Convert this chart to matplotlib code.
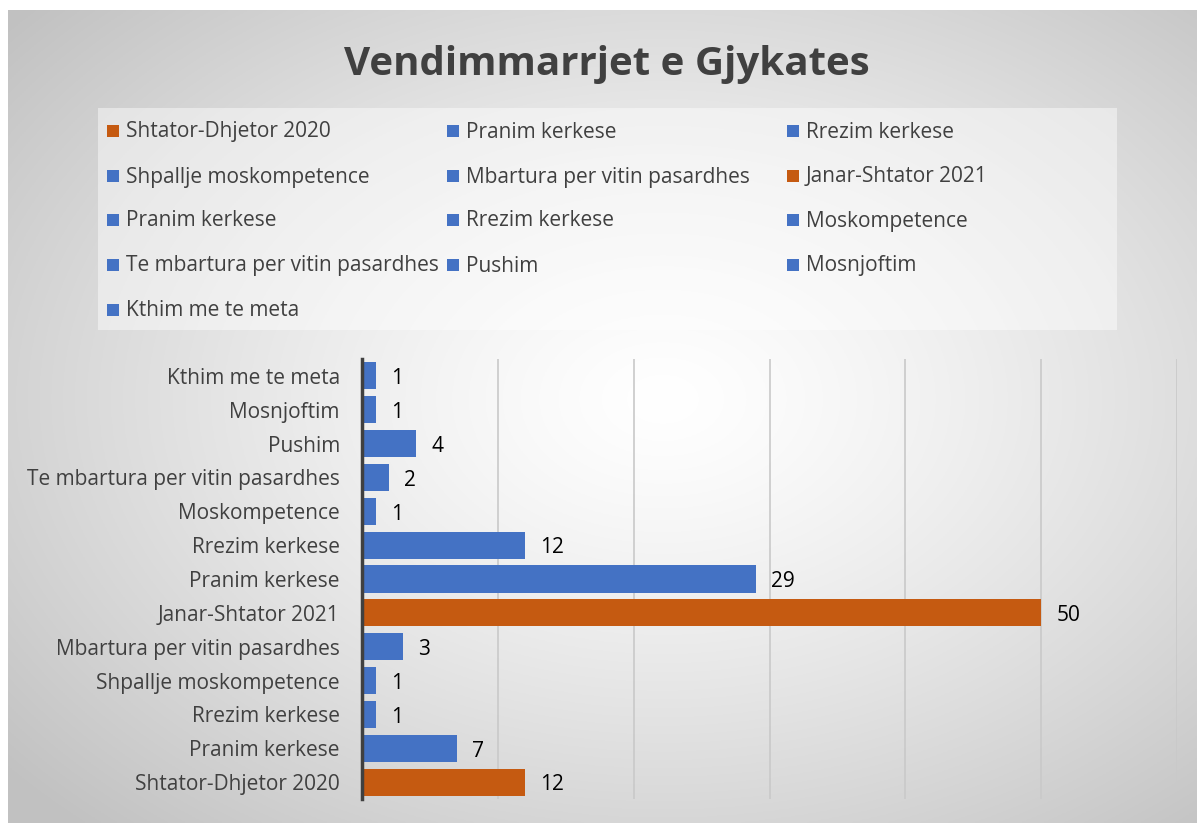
import numpy as np
import matplotlib
matplotlib.use("Agg")
import matplotlib.pyplot as plt
from matplotlib.patches import Rectangle

# ---- data (bottom to top as drawn) ----
categories = ["Shtator-Dhjetor 2020", "Pranim kerkese", "Rrezim kerkese",
              "Shpallje moskompetence", "Mbartura per vitin pasardhes",
              "Janar-Shtator 2021", "Pranim kerkese", "Rrezim kerkese",
              "Moskompetence", "Te mbartura per vitin pasardhes", "Pushim",
              "Mosnjoftim", "Kthim me te meta"]
values = [12, 7, 1, 1, 3, 50, 29, 12, 1, 2, 4, 1, 1]
is_period = [True, False, False, False, False, True, False, False, False, False, False, False, False]
title = "Vendimmarrjet e Gjykates"

BLUE = "#4472C4"
ORANGE = "#C55A11"
TXT = "#404040"
colors = [ORANGE if p else BLUE for p in is_period]

W, H = 1197, 823
fig = plt.figure(figsize=(W / 100, H / 100), dpi=100)
fig.patch.set_facecolor("white")

# background gradient panel
bx0, by0 = 8 / W, 0.0
bg = fig.add_axes([bx0, by0, 1 - bx0, (H - 10) / H])
bg.set_axis_off()
ny, nx = 400, 600
yy, xx = np.mgrid[0:ny, 0:nx]
cx, cy = 0.55 * nx, 0.52 * ny
r = np.sqrt(((xx - cx) / (nx * 0.62)) ** 2 + ((yy - cy) / (ny * 0.62)) ** 2)
r = np.clip(r, 0, 1.15)
c = 1.0 - 0.20 * r ** 1.3
img = np.dstack([c, c, c])
bg.imshow(img, aspect="auto", extent=[0, 1, 0, 1], origin="lower")
bg.set_xlim(0, 1)
bg.set_ylim(0, 1)

# title
fig.text(607 / W, 1 - 64 / H, title, ha="center", va="center",
         fontsize=29, fontweight="bold", color=TXT, family="Open Sans")

# legend box
lx0, lx1, ly0, ly1 = 98, 1117, 108, 330
fig.patches.append(Rectangle((lx0 / W, 1 - ly1 / H), (lx1 - lx0) / W, (ly1 - ly0) / H,
                             transform=fig.transFigure, facecolor="white", alpha=0.45,
                             edgecolor="none", zorder=1))
col_x = [107, 447, 787]
row_y = [131, 176, 220, 265, 310]
for i, (lab, col) in enumerate(zip(categories, colors)):
    rr, cc = divmod(i, 3)
    x = col_x[cc]
    y = row_y[rr]
    fig.patches.append(Rectangle((x / W, 1 - (y + 6) / H), 12 / W, 12 / H,
                                 transform=fig.transFigure, facecolor=col,
                                 edgecolor="none", zorder=2))
    fig.text((x + 19) / W, 1 - (y + 1) / H, lab, ha="left", va="center",
             fontsize=15, color=TXT, family="Open Sans", zorder=3)

# main bar axes
ax = fig.add_axes([362 / W, 24 / H, (1177 - 362) / W, (799 - 359) / H])
ax.set_facecolor("none")
ypos = np.arange(len(categories))
ax.barh(ypos, values, height=0.8, color=colors, zorder=3)
ax.set_xlim(0, 60)
ax.set_ylim(-0.5, len(categories) - 0.5)
ax.set_xticks(np.arange(0, 61, 10))
ax.tick_params(axis="x", length=0, labelbottom=False)
ax.tick_params(axis="y", length=0, pad=16)
ax.set_yticks(ypos)
ax.set_yticklabels(categories, fontsize=15, color=TXT, family="Open Sans")
ax.grid(axis="x", color="#c9c9c9", linewidth=1.2, zorder=0)
for s in ["top", "right", "bottom"]:
    ax.spines[s].set_visible(False)
ax.spines["left"].set_color("#404040")
ax.spines["left"].set_linewidth(2.5)
ax.spines["left"].set_zorder(4)
for yv, v in zip(ypos, values):
    ax.annotate(str(v), (v, yv), xytext=(11, -2), textcoords="offset points",
                ha="left", va="center", fontsize=15, color="black",
                family="Open Sans")

fig.savefig("out.png", dpi=100)
